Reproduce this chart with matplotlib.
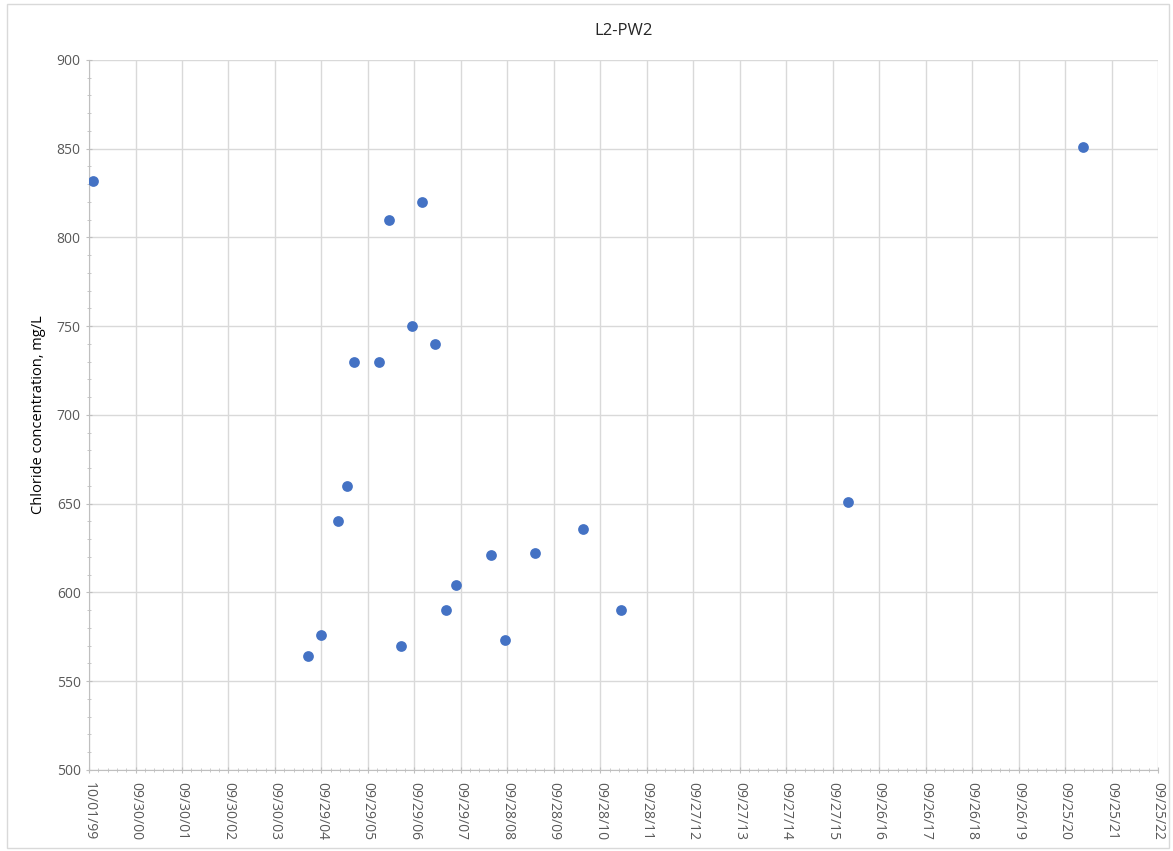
import pandas as pd
import matplotlib.pyplot as plt
import matplotlib.dates as mdates
from matplotlib.ticker import MultipleLocator, FixedLocator

plt.rcParams['font.family'] = ['Open Sans', 'DejaVu Sans']

# sample dates and chloride values
dates = ['1999-11-01', '2004-06-19', '2004-09-29', '2005-02-04', '2005-04-21',
         '2005-06-15', '2005-12-29', '2006-03-16', '2006-06-19', '2006-09-14',
         '2006-11-30', '2007-03-12', '2007-06-08', '2007-08-24', '2008-05-23',
         '2008-09-10', '2009-05-05', '2010-05-16', '2011-03-11', '2016-01-22',
         '2021-02-14']
chloride = [832, 564, 576, 640, 660, 730, 730, 810, 570, 750, 820, 740, 590,
            604, 621, 573, 622, 636, 590, 651, 851]

start = pd.Timestamp('1999-10-01')
n_ticks = 24
tick_dates = [start + pd.Timedelta(days=365 * i) for i in range(n_ticks)]
minor_dates = [start + pd.Timedelta(days=73 * i) for i in range(5 * (n_ticks - 1) + 1)]

x = pd.to_datetime(dates)

fig = plt.figure(figsize=(11.73, 8.51), dpi=100)
ax = fig.add_axes([0.0759, 0.0952, 0.9113, 0.8343])

ax.scatter(x, chloride, s=60, color='#4472C4', zorder=3, linewidths=0)

ax.set_xlim(tick_dates[0], tick_dates[-1])
ax.set_ylim(500, 900)
ax.yaxis.set_major_locator(MultipleLocator(50))
ax.yaxis.set_minor_locator(MultipleLocator(10))
ax.xaxis.set_major_locator(FixedLocator(mdates.date2num(tick_dates)))
ax.xaxis.set_minor_locator(FixedLocator(mdates.date2num(minor_dates)))
ax.xaxis.set_major_formatter(mdates.DateFormatter('%m/%d/%y'))

ax.grid(True, which='major', color='#D9D9D9', linewidth=1)
ax.set_axisbelow(True)
for side in ['top', 'right']:
    ax.spines[side].set_visible(False)
for side in ['left', 'bottom']:
    ax.spines[side].set_color('#BFBFBF')

ax.tick_params(axis='both', which='major', colors='#BFBFBF', labelcolor='#595959',
               labelsize=10, length=5, direction='inout')
ax.tick_params(axis='both', which='minor', colors='#BFBFBF', length=3, direction='inout')
ax.tick_params(axis='x', which='major', pad=6)
plt.setp(ax.get_xticklabels(), rotation=-90, ha='center', va='top')

ax.set_ylabel('Chloride concentration, mg/L', fontsize=10.5, color='#000000', labelpad=8)
ax.set_title('L2-PW2', fontsize=12, color='#262626', pad=18)

# chart border
fig.patches.append(plt.Rectangle((0.006, 0.004), 0.991, 0.991, transform=fig.transFigure,
                                 fill=False, edgecolor='#D9D9D9', linewidth=1))

fig.savefig('out.png', dpi=100)
